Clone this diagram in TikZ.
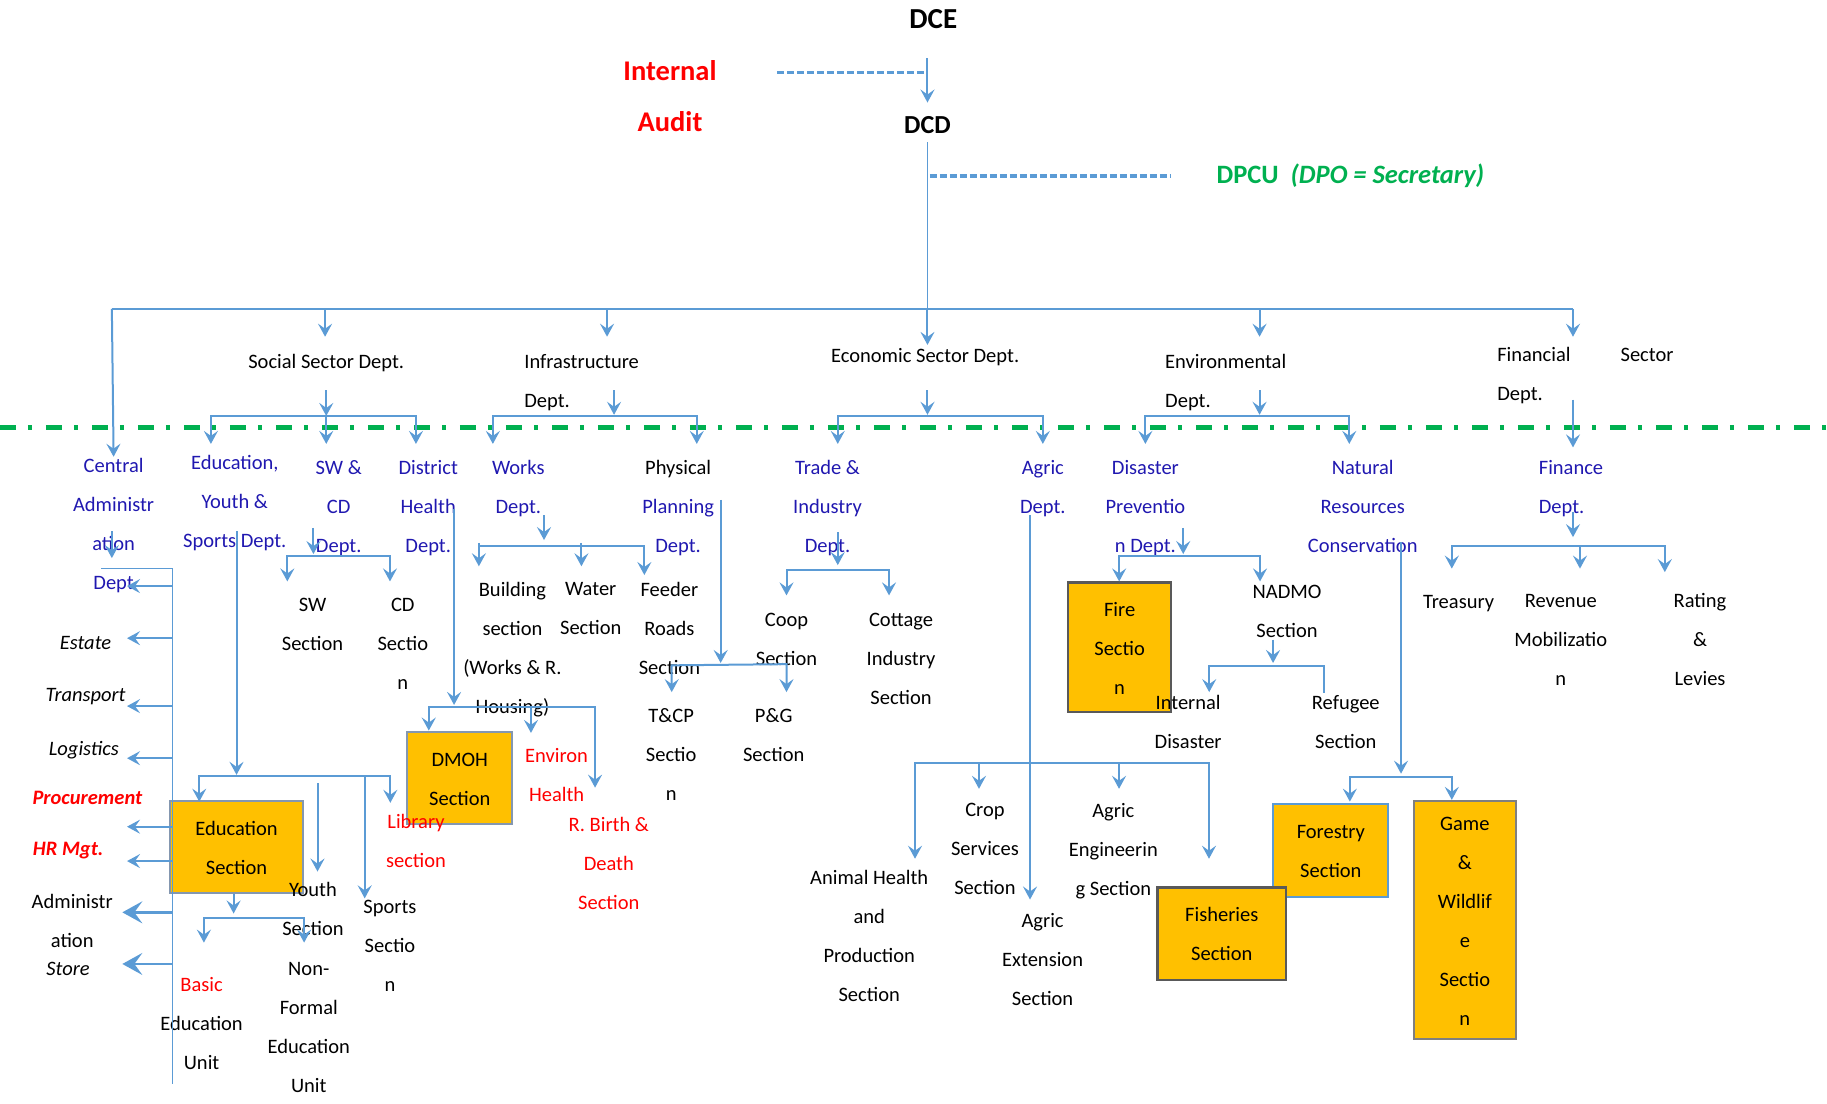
\documentclass[tikz,border=0pt]{standalone}
\usepackage{fontspec}
\setmainfont{Carlito}
\usetikzlibrary{arrows.meta}
\definecolor{lblue}{RGB}{91,155,213}
\definecolor{dblue}{RGB}{32,24,176}
\definecolor{mygreen}{RGB}{0,176,80}
\definecolor{myred}{RGB}{255,0,0}
\definecolor{myorange}{RGB}{255,192,0}
\definecolor{bgray}{RGB}{132,151,176}
\definecolor{dgray}{RGB}{89,89,89}
\definecolor{mgray}{RGB}{127,127,127}
\newcommand\myfs{\fontsize{20.5}{39}\selectfont}
\begin{document}
\begin{tikzpicture}[x=1.1652pt,y=-1.1652pt,
  mytip/.tip={Stealth[length=13pt,width=14pt,inset=5pt]},
  bigtip/.tip={Stealth[length=20pt,width=22pt,inset=8pt]},
  ln/.style={draw=lblue, line width=2pt},
  thinln/.style={draw=lblue, line width=1.2pt},
  arr/.style={ln, -mytip},
  barr/.style={ln, mytip-mytip},
  larr/.style={ln, -mytip},
  bigarr/.style={ln, line width=2.4pt, -bigtip},
  dashln/.style={draw=lblue, line width=3.2pt, dash pattern=on 7pt off 3pt},
  greenln/.style={draw=mygreen, line width=4.5pt, dash pattern=on 16pt off 12pt on 4pt off 14pt},
  lbl/.style={font=\myfs, align=center, inner sep=0pt, outer sep=0pt, anchor=north, yshift=8pt},
  lbll/.style={lbl, align=left, anchor=north west},
  blbl/.style={lbl, text=dblue},
  rlbl/.style={lbl, text=myred},
  ilbl/.style={lbl, font=\myfs\itshape},
  rilbl/.style={lbl, text=myred, font=\myfs\bfseries\itshape},
  obox/.style={font=\myfs, align=center, inner sep=0pt, fill=myorange, line width=2pt,
               execute at end node=\strut},
  head/.style={inner sep=0pt, font=\bfseries\fontsize{28.5}{32}\selectfont}
]
\useasboundingbox (0,0) rectangle (1568,947);

% ---------- green separator ----------
\coordinate (gL) at (0,367); \coordinate (gR) at (1568,367);
\draw[greenln] (gL) -- (gR);

% ---------- boxes ----------
\node[obox, draw=bgray, minimum width=132.8pt, minimum height=92.7pt] (edubox) at (203,726.8) {\strut Education\\Section};
\node[obox, draw=bgray, minimum width=105pt, minimum height=92pt] (dmoh) at (394.6,667.5) {\strut DMOH\\Section};
\node[obox, draw=dgray, line width=2.6pt, minimum width=102.9pt, minimum height=129.3pt] (fire) at (960.9,555.5) {\strut Fire\\Sectio\\n};
\node[obox, draw=lblue, minimum width=115.1pt, minimum height=92.7pt] (forestry) at (1142.2,729.8) {\strut Forestry\\Section};
\node[obox, draw=mgray, line width=2.4pt, minimum width=102.2pt, minimum height=237.8pt] (game) at (1257.2,789.4) {\strut Game\\\&\\Wildlif\\e\\Sectio\\n};
\node[obox, draw=dgray, line width=2.6pt, minimum width=128.4pt, minimum height=92.6pt] (fisheries) at (1048.6,801.3) {\strut Fisheries\\Section};

% ---------- top ----------
\node[head, font=\bfseries\fontsize{29}{32}\selectfont] (dce) at (801,16) {DCE};
\node[head, font=\bfseries\fontsize{26}{30}\selectfont] (dcd) at (796,107) {DCD};
\node[head, text=myred] (internal) at (575,61) {Internal};
\node[head, text=myred] (audit) at (575,104) {Audit};
\node[head, text=mygreen, anchor=west, font=\bfseries\fontsize{26.5}{30}\selectfont] (dpcu) at (1044,151) {DPCU\hspace{0.45em}\textit{(DPO = Secretary)}};

% ---------- second level ----------
\node[lbl] (social) at (280,311) {Social Sector Dept.};
\node[lbll] (infra) at (450,311) {Infrastructure\\Dept.};
\node[lbl] (econ) at (794,306) {Economic Sector Dept.};
\node[lbll] (env) at (1000,311) {Environmental\\Dept.};
\node[lbll] (fin) at (1285,305) {Financial\hspace{50pt}Sector\\Dept.};

% ---------- third level ----------
\node[blbl] (central) at (97.5,400) {Central\\Administr\\ation\\Dept};
\node[blbl] (edu) at (201.5,398) {Education,\\Youth \&\\Sports Dept.};
\node[blbl] (swcd) at (290.7,401.7) {SW \&\\CD\\Dept.};
\node[blbl] (dhealth) at (367.5,401.7) {District\\Health\\Dept.};
\node[blbl] (works) at (444.8,401.7) {Works\\Dept.};
\node[blbl] (physical) at (582,401.7) {\textcolor{black}{Physical}\\Planning\\Dept.};
\node[blbl] (trade) at (710.2,401.7) {Trade \&\\Industry\\Dept.};
\node[blbl] (agric) at (895,401.7) {Agric\\Dept.};
\node[blbl] (disaster) at (983,401.7) {Disaster\\Preventio\\n Dept.};
\node[blbl] (natural) at (1169.5,401.7) {Natural\\Resources\\Conservation};
\node[blbl, align=left, anchor=north west] (finance) at (1320.7,401.7) {Finance\\Dept.};

% ---------- central administration list ----------
\node[ilbl] (estate) at (73.4,553) {Estate};
\node[ilbl] (transport) at (73.4,598) {Transport};
\node[ilbl] (logistics) at (72,643) {Logistics};
\node[rilbl] (procure) at (75,686) {Procurement};
\node[rilbl] (hrmgt) at (58.5,730) {HR Mgt.};
\node[lbl] (adminl) at (62,774) {Administr\\ation};
\node[ilbl] (store) at (58.4,832.5) {Store};

% ---------- education subtree ----------
\node[lbl] (basic) at (173,845.4) {\textcolor{myred}{Basic}\\Education\\Unit};
\node[lbl] (youth) at (268.6,763.8) {Youth\\Section};
\node[lbl] (nonformal) at (265,833) {Non-\\Formal\\Education\\Unit};
\node[rlbl] (library) at (357,706) {Library\\section};
\node[lbl] (sports) at (334.7,779.5) {Sports\\Sectio\\n};

% ---------- SW & CD ----------
\node[lbl] (sw) at (268.2,520.6) {SW\\Section};
\node[lbl] (cd) at (345.7,520.6) {CD\\Sectio\\n};

% ---------- district health ----------
\node[rlbl] (environ) at (477.7,649.4) {Environ\\Health};
\node[rlbl] (birth) at (522.5,708) {R. Birth \&\\Death\\Section};

% ---------- works ----------
\node[lbl] (building) at (439.8,506.4) {Building\\section\\(Works \& R.\\Housing)};
\node[lbl] (water) at (507,506.4) {Water\\Section};
\node[lbl] (feeder) at (574.5,506.4) {Feeder\\Roads\\Section};

% ---------- physical planning ----------
\node[lbl] (tcp) at (576,615) {T\&CP\\Sectio\\n};
\node[lbl] (pg) at (664,615) {P\&G\\Section};

% ---------- trade ----------
\node[lbl] (coop) at (675,532.7) {Coop\\Section};
\node[lbl] (cottage) at (773.3,532.7) {Cottage\\Industry\\Section};

% ---------- agric ----------
\node[lbl] (animal) at (746,754) {Animal Health\\and\\Production\\Section};
\node[lbl] (crop) at (845.3,696.6) {Crop\\Services\\Section};
\node[lbl] (agreng) at (955.5,696.6) {Agric\\Engineerin\\g Section};
\node[lbl] (agrext) at (894.8,791) {Agric\\Extension\\Section};

% ---------- disaster ----------
\node[lbl] (nadmo) at (1104.6,508.7) {NADMO\\Section};
\node[lbl] (intdis) at (1019.7,603.5) {Internal\\Disaster};
\node[lbl] (refugee) at (1155,603.5) {Refugee\\Section};

% ---------- finance ----------
\node[lbl] (treasury) at (1251.8,517.6) {Treasury};
\node[lbl] (revenue) at (1339.5,517) {Revenue\\Mobilizatio\\n};
\node[lbl] (rating) at (1459,515.8) {Rating\\\&\\Levies};

% ================= connectors =================
% top
\coordinate (ia1) at (667,62); \coordinate (ia2) at (795,62);
\draw[dashln] (ia1) -- (ia2);
\coordinate (dceb) at (796,50); \coordinate (dcdt) at (796,88);
\draw[arr] (dceb) -- (dcdt);
\coordinate (dcdb) at (796,122); \coordinate (busC) at (796,265);
\draw[thinln] (dcdb) -- (busC);
\coordinate (dp1) at (798,151); \coordinate (dp2) at (1005,151);
\draw[dashln] (dp1) -- (dp2);

% bus
\coordinate (bus0) at (96,265); \coordinate (bus6) at (1350,265);
\draw[ln] (bus0) -- (bus6);
\coordinate (bus1) at (279,265); \coordinate (bus2) at (521,265);
\coordinate (bus4) at (1081,265);
\coordinate (t0) at (97.5,392); \coordinate (t1) at (279,289); \coordinate (t2) at (521,289);
\coordinate (t3) at (796,296); \coordinate (t4) at (1081,289); \coordinate (t6) at (1350,289);
\draw[arr] (bus0) -- (t0);
\draw[arr] (bus1) -- (t1);
\draw[arr] (bus2) -- (t2);
\draw[arr] (busC) -- (t3);
\draw[arr] (bus4) -- (t4);
\draw[arr] (bus6) -- (t6);

% second-level brackets
\coordinate (so1) at (280,335); \coordinate (so2) at (280,357);
\draw[arr] (so1) -- (so2);
\draw[barr] (181,381) -- (181,357) -- (357,357) -- (357,381);
\coordinate (so3) at (280,381);
\draw[arr] (so2) -- (so3);

\coordinate (in1) at (527,335); \coordinate (in2) at (527,356);
\draw[arr] (in1) -- (in2);
\draw[barr] (423,381) -- (423,357) -- (598,357) -- (598,381);

\coordinate (ec1) at (796,335); \coordinate (ec2) at (796,356);
\draw[arr] (ec1) -- (ec2);
\draw[barr] (719,381) -- (719,357) -- (895,357) -- (895,381);

\coordinate (en1) at (1081,335); \coordinate (en2) at (1081,356);
\draw[arr] (en1) -- (en2);
\draw[barr] (983,381) -- (983,357) -- (1158,357) -- (1158,381);

\coordinate (fi1) at (1350,343); \coordinate (fi2) at (1350,384);
\draw[arr] (fi1) -- (fi2);

% central administration
\coordinate (ca1) at (96,456); \coordinate (ca2) at (96,479);
\draw[arr] (ca1) -- (ca2);
\draw[ln, line width=1.6pt] (87,488) -- (148,488) -- (148,930);
\foreach \yy in {503,547.7,606,650.7,709.5,739}{
  \draw[larr] (148,\yy) -- (109,\yy);
}
\draw[bigarr] (148,783) -- (105,783);
\draw[bigarr] (148,827.3) -- (105,827.3);

% education
\coordinate (ed1) at (203,456); \coordinate (ed2) at (203,665);
\draw[arr] (ed1) -- (ed2);
\draw[barr] (171,688) -- (171,666) -- (335,666) -- (335,689);
\coordinate (ed3) at (313,666); \coordinate (ed4) at (313,771);
\draw[arr] (ed3) -- (ed4);
\coordinate (yo1) at (272.5,672); \coordinate (yo2) at (272.5,748);
\draw[arr] (yo1) -- (yo2);
\coordinate (eb1) at (200.5,767); \coordinate (eb2) at (200.5,784);
\draw[arr] (eb1) -- (eb2);
\draw[barr] (175,809) -- (175,787.6) -- (261,787.6) -- (261,809);

% SW & CD
\coordinate (sc1) at (269,453); \coordinate (sc2) at (269,475.5);
\draw[arr] (sc1) -- (sc2);
\draw[barr] (246.6,499) -- (246.6,477) -- (334.7,477) -- (334.7,499);

% district health
\coordinate (dh1) at (389.7,437); \coordinate (dh2) at (389.7,605);
\draw[arr] (dh1) -- (dh2);
\draw[barr] (368,627) -- (368,606.5) -- (510.7,606.5) -- (510.7,676);
\coordinate (dh3) at (455.7,606.5); \coordinate (dh4) at (455.7,629);
\draw[arr] (dh3) -- (dh4);

% works
\coordinate (wk1) at (466.9,442); \coordinate (wk2) at (466.9,463.5);
\draw[arr] (wk1) -- (wk2);
\draw[ln] (411,466) -- (411,469);
\draw[ln] (499,466) -- (499,469);
\draw[barr] (411,486) -- (411,469) -- (553,469) -- (553,493.5);
\coordinate (wk3) at (499,469); \coordinate (wk4) at (499,486);
\draw[arr] (wk3) -- (wk4);

% physical planning
\coordinate (pp1) at (618.5,429); \coordinate (pp2) at (618.5,569);
\draw[arr] (pp1) -- (pp2);
\draw[barr] (576.5,594) -- (576.5,571) -- (675,570) -- (675,594);

% trade
\coordinate (tr1) at (719,457); \coordinate (tr2) at (719,485);
\draw[arr] (tr1) -- (tr2);
\draw[barr] (675,511) -- (675,489) -- (763,489) -- (763,511);

% agric
\coordinate (ag1) at (884,442); \coordinate (ag2) at (884,772);
\draw[arr] (ag1) -- (ag2);
\draw[barr] (785.3,737) -- (785.3,655) -- (1037.6,655) -- (1037.6,737);
\coordinate (ag3) at (840.2,655); \coordinate (ag4) at (840.2,677);
\draw[arr] (ag3) -- (ag4);
\coordinate (ag5) at (960.4,655); \coordinate (ag6) at (960.4,677);
\draw[arr] (ag5) -- (ag6);

% disaster
\coordinate (ds1) at (1015.5,453); \coordinate (ds2) at (1015.5,475.5);
\draw[arr] (ds1) -- (ds2);
\draw[barr] (960.5,499) -- (960.5,477) -- (1081.4,477) -- (1081.4,499);
\coordinate (na1) at (1092.6,549); \coordinate (na2) at (1092.6,569);
\draw[arr] (na1) -- (na2);
\draw[ln, mytip-] (1037.8,594) -- (1037.8,571.6) -- (1136.3,571.6) -- (1136.3,595);

% natural resources
\coordinate (nr1) at (1202.4,465); \coordinate (nr2) at (1202.4,664);
\draw[arr] (nr1) -- (nr2);
\draw[barr] (1158.5,688) -- (1158.5,666.6) -- (1246,666.6) -- (1246,686.5);

% finance
\coordinate (fn1) at (1350,439); \coordinate (fn2) at (1350,461);
\draw[arr] (fn1) -- (fn2);
\draw[barr] (1246,488) -- (1246,469) -- (1428.8,469) -- (1428.8,491);
\coordinate (fn3) at (1356,469); \coordinate (fn4) at (1356,488);
\draw[arr] (fn3) -- (fn4);
\end{tikzpicture}
\end{document}
